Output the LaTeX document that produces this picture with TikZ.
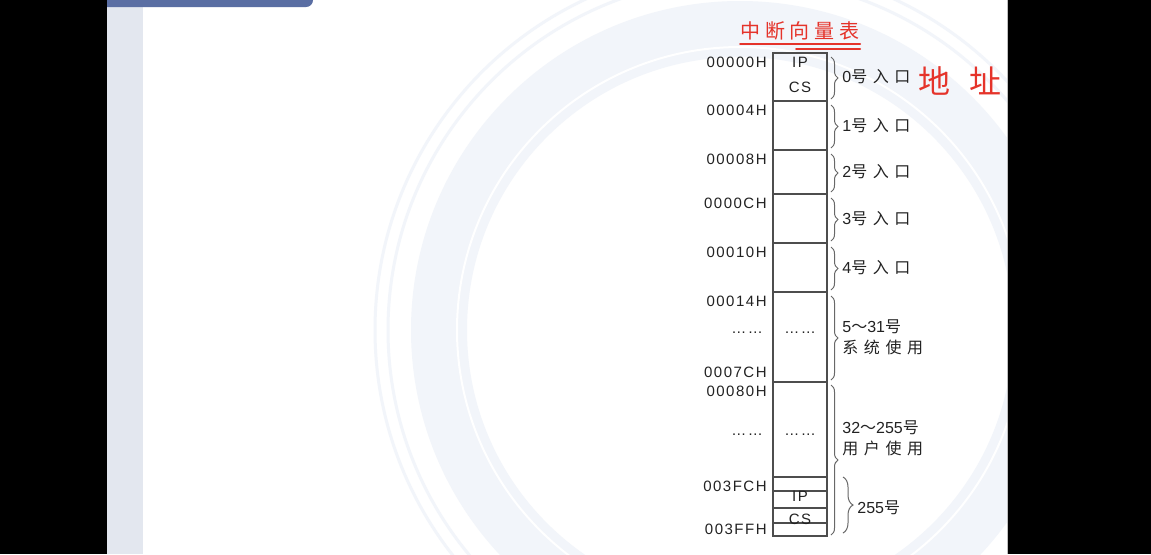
\documentclass[tikz,border=0pt]{standalone}
\usepackage{fontspec}
\setmainfont{Liberation Sans}
\newfontfamily\hexfont[LetterSpace=10]{Liberation Sans}
\newfontfamily\cjk[LetterSpace=35]{Noto Sans CJK SC}
\newfontfamily\cjkred[LetterSpace=24]{Noto Sans CJK SC}
\newfontfamily\cjkhand[LetterSpace=60]{Noto Sans CJK SC}
\usepackage{tikz}
\usetikzlibrary{positioning,decorations.pathreplacing}
\definecolor{ink}{HTML}{222222}
\definecolor{rule}{HTML}{4D4D4D}
\definecolor{marker}{HTML}{E5332A}
\definecolor{stripe}{HTML}{E3E7EF}
\definecolor{bar}{HTML}{5A6EA3}
\definecolor{ring}{HTML}{F2F5FA}
\tikzset{
  cell/.style={rectangle, draw=rule, line width=0.6pt, minimum width=27pt, inner sep=0pt, outer sep=0pt},
  cellt/.style={font=\hexfont\fontsize{7.5}{9}\selectfont, text=ink, inner sep=0pt},
  addr/.style={cellt, anchor=north east},
  tag/.style={font=\fontsize{8}{10.5}\selectfont, text=ink, inner sep=0pt, align=left},
  brc/.style={decorate, decoration={brace, amplitude=3.5pt}, draw=rule!85, line width=0.5pt},
  title/.style={font=\cjkred\fontsize{10}{11}\selectfont, text=marker, inner sep=0pt},
  hand/.style={font=\cjkhand\fontsize{16}{17}\selectfont, text=marker, inner sep=0pt},
  penline/.style={draw=marker, line width=1pt, line cap=round}
}
\begin{document}
\begin{tikzpicture}[x=0.5pt, y=-0.5pt]
  \useasboundingbox (0,0) rectangle (1151,554);
  % slide and its backdrop
  \fill[black] (0,0) rectangle (1151,554);
  \fill[white] (107,0) rectangle (1007,554);
  \begin{scope}
    \clip (143,0) rectangle (1007,554);
    \draw[ring, line width=28pt] (740,330) circle (301);
    \draw[ring, line width=1.5pt] (740,330) circle (365);
    \draw[ring, line width=1.5pt] (740,330) circle (352);
    \draw[white, line width=1pt] (740,330) circle (283);
  \end{scope}
  \fill[stripe] (107,0) rectangle (143,554);
  \fill[bar, rounded corners=3.5pt] (60,-10) rectangle (313,7);
  \fill[black] (0,0) rectangle (107,554);
  \draw[black!25, line width=0.5pt] (1007,0) -- (1007,554);

  % the table
  \node[cell, minimum height=24pt] (r0) at (800,77) {};
  \foreach \h [count=\i from 1, remember=\i as \j (initially 0)] in {24.5,22,24.5,24.5,45,47.5,7,8.5,7.5,6.5}
    \node[cell, minimum height=\h pt, below=0pt of r\j] (r\i) {};

  \node[cellt, below=1.8pt of r0.north] (ip0) {IP};
  \node[cellt, above=3.8pt of r0.south] (cs0) {CS};
  \node[cellt] (d5) at ([yshift=2pt]r5.center) {……};
  \node[cellt] (d6) at ([yshift=-2.75pt]r6.center) {……};
  \node[cellt] (ip255) at ([yshift=1.75pt]r8.center) {IP};
  \node[cellt] (cs255) at ([yshift=-1.75pt]r9.center) {CS};

  % addresses
  \foreach \r/\t in {r0/00000H, r1/00004H, r2/00008H, r3/0000CH, r4/00010H, r5/00014H, r6/00080H, r7/003FCH}
    \node[addr] (a\r) at ([xshift=-3pt,yshift=-2pt]\r.north west) {\t};
  \node[cellt, anchor=south east] (a7C) at ([xshift=-3pt,yshift=2pt]r5.south west) {0007CH};
  \node[cellt, anchor=south east] (a3FF) at ([xshift=-3pt,yshift=0.5pt]r10.south west) {003FFH};
  \node[cellt] (d5a) at ([xshift=-26.5pt]d5.center) {……};
  \node[cellt] (d6a) at ([xshift=-26.5pt]d6.center) {……};

  % braces and entry names
  \foreach \r in {r0,r1,r2,r3,r4,r5}
    \draw[brc] ([xshift=2pt,yshift=-2pt]\r.north east) -- ([xshift=2pt,yshift=1pt]\r.south east);
  \draw[brc] ([xshift=2pt,yshift=-1.5pt]r6.north east) -- ([xshift=2pt,yshift=0.5pt]r10.south east);
  \draw[brc, decoration={amplitude=5pt}] ([xshift=8pt]r7.north east) -- ([xshift=8pt,yshift=1.5pt]r10.south east);

  \foreach \r/\n in {r0/0,r1/1,r2/2,r3/3,r4/4}
    \node[tag, right=7.5pt of \r] (l\n) {\n{\cjk 号入口}};
  \node[tag, right=7.5pt of r5] (l5) {5{\cjk ～}31{\cjk 号}\\{\cjk 系统使用}};
  \node[tag, right=7.5pt of r6, yshift=-4.25pt] (l32) {32{\cjk ～}255{\cjk 号}\\{\cjk 用户使用}};
  \node[tag, right=15pt of r8.south east] (l255) {255{\cjk 号}};

  % red notes
  \node[title, above=6pt of r0] (ttl) {中断向量表};
  \draw[penline] ([yshift=-1.5pt]ttl.south west) -- ([yshift=-1.5pt]ttl.south east);
  \draw[penline] ([xshift=28pt,yshift=-4pt]ttl.south west) -- ([yshift=-4pt]ttl.south east);
  \node[hand, right=3.5pt of l0, yshift=-2pt] (note) {地址};
\end{tikzpicture}
\end{document}
